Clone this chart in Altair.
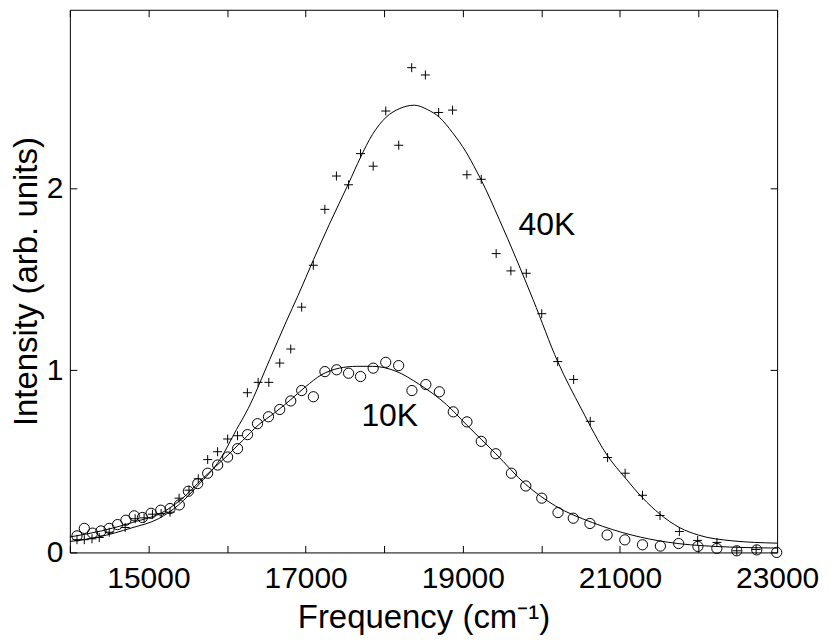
import altair as alt
import pandas as pd

# ---------------- data ----------------
k40_freq = [14091, 14184, 14282, 14374, 14501, 14704, 14831, 14945, 15051, 15161,
            15275, 15390, 15516, 15634, 15754, 15880, 16008, 16134, 16259, 16396,
            16532, 16671, 16811, 16950, 17098, 17245, 17392, 17547, 17699, 17860,
            18020, 18185, 18350, 18524, 18693, 18870, 19053, 19235, 19425, 19612,
            19808, 20005, 20208, 20411, 20622, 20843, 21066, 21287, 21510, 21756,
            21989, 22234, 22487, 22733]
k40_int = [0.070, 0.070, 0.075, 0.082, 0.111, 0.137, 0.185, 0.190, 0.210, 0.214,
           0.221, 0.298, 0.342, 0.404, 0.510, 0.553, 0.623, 0.641, 0.877, 0.934,
           0.934, 1.040, 1.117, 1.347, 1.577, 1.884, 2.067, 2.019, 2.190, 2.121,
           2.424, 2.236, 2.662, 2.622, 2.416, 2.429, 2.074, 2.049, 1.641, 1.546,
           1.533, 1.311, 1.048, 0.950, 0.720, 0.521, 0.435, 0.314, 0.203, 0.115,
           0.066, 0.055, 0.009, 0.016]

k10_freq = [14091, 14184, 14289, 14396, 14501, 14607, 14713, 14819, 14924, 15034,
            15157, 15275, 15393, 15508, 15627, 15754, 15881, 16008, 16134, 16261,
            16388, 16528, 16671, 16811, 16950, 17099, 17246, 17395, 17547, 17699,
            17860, 18020, 18184, 18353, 18530, 18702, 18879, 19053, 19235, 19421,
            19619, 19802, 20005, 20212, 20406, 20618, 20837, 21062, 21287, 21515,
            21747, 21992, 22233, 22487, 22741, 22995]
k10_int = [0.091, 0.132, 0.106, 0.118, 0.132, 0.153, 0.177, 0.201, 0.192, 0.215,
           0.232, 0.241, 0.261, 0.336, 0.378, 0.435, 0.480, 0.524, 0.570, 0.647,
           0.707, 0.745, 0.785, 0.832, 0.889, 0.855, 0.993, 1.003, 0.984, 0.966,
           1.012, 1.044, 1.026, 0.889, 0.922, 0.882, 0.772, 0.717, 0.610, 0.542,
           0.435, 0.365, 0.298, 0.219, 0.188, 0.159, 0.096, 0.069, 0.042, 0.035,
           0.049, 0.033, 0.022, 0.009, 0.014, 0.000]

fit40_freq = [14000, 14365, 14789, 15127, 15381, 15634, 15910, 16122, 16269, 16544,
              16756, 16903, 17103, 17300, 17551, 17699, 17850, 18025, 18200, 18384,
              18550, 18701, 18870, 19040, 19168, 19235, 19463, 19895, 20208, 20508,
              20843, 21066, 21287, 21510, 21756, 22001, 22424, 23000]
fit40_int = [0.060, 0.085, 0.135, 0.185, 0.260, 0.370, 0.510, 0.676, 0.790, 1.060,
             1.270, 1.410, 1.610, 1.800, 2.030, 2.170, 2.295, 2.390, 2.438, 2.456,
             2.432, 2.390, 2.305, 2.200, 2.100, 2.045, 1.830, 1.388, 1.048, 0.789,
             0.530, 0.410, 0.300, 0.210, 0.137, 0.095, 0.064, 0.051]

fit10_freq = [14000, 14400, 14800, 15200, 15400, 15700, 16000, 16200, 16400, 16600,
              16800, 17000, 17200, 17430, 17650, 17855, 18150, 18450, 18790, 19050,
              19420, 19800, 20180, 20650, 21155, 21580, 22210, 23000]
fit10_int = [0.085, 0.118, 0.165, 0.225, 0.285, 0.410, 0.530, 0.615, 0.700, 0.765,
             0.835, 0.910, 0.975, 1.012, 1.022, 1.022, 0.995, 0.922, 0.813, 0.700,
             0.542, 0.374, 0.255, 0.164, 0.095, 0.058, 0.033, 0.024]

x_tick_values = [14000, 15000, 16000, 17000, 18000, 19000, 20000, 21000, 22000, 23000]
x_label_values = [15000, 17000, 19000, 21000, 23000]
y_tick_values = [0, 1, 2]
y_label_values = [0, 1, 2]

note_text = ["40K", "10K"]
note_freq = [20072, 18071]
note_int = [1.80, 0.751]

# ---------------- chart ----------------
W, H = 709, 544
FONT = "Liberation Sans"
FS = 30      # tick labels
FT = 33      # axis titles
FN = 32      # in-plot notes

xs = alt.Scale(domain=[14000, 23000], nice=False, zero=False)
ys = alt.Scale(domain=[0, 2.98], nice=False, zero=False)


def frame(f, i):
    return pd.DataFrame({"f": f, "i": i})


x_label_axis = alt.Axis(values=x_label_values, format="d", ticks=False, tickSize=0,
                        domain=False, grid=False, labelFont=FONT, labelFontSize=FS,
                        labelColor="black", labelPadding=11, labelFlush=False,
                        labelOverlap=False, labelBound=False,
                        title="Frequency (cm⁻¹)", titleFont=FONT, titleFontSize=FT,
                        titleFontWeight="normal", titleColor="black",
                        titleX=W / 2, titleY=75, titleBaseline="alphabetic",
                        titleAlign="center")
y_label_axis = alt.Axis(values=y_label_values, format="d", ticks=False, tickSize=0,
                        domain=False, grid=False, labelFont=FONT, labelFontSize=FS,
                        labelColor="black", labelPadding=7, labelFlush=False,
                        labelOverlap=False, labelBound=False,
                        title="Intensity (arb. units)", titleFont=FONT, titleFontSize=FT,
                        titleFontWeight="normal", titleColor="black",
                        titleX=-33, titleY=H / 2, titleAngle=270,
                        titleBaseline="alphabetic", titleAlign="center")


def tick_axis(values, orient, offset):
    return alt.Axis(values=values, orient=orient, offset=offset, labels=False,
                    domain=False, grid=False, ticks=True, tickSize=7,
                    tickColor="black", tickWidth=1, title="")


line40 = alt.Chart(frame(fit40_freq, fit40_int)).mark_line(
    color="black", strokeWidth=1, interpolate="monotone"
).encode(
    x=alt.X("f:Q", scale=xs, axis=x_label_axis),
    y=alt.Y("i:Q", scale=ys, axis=y_label_axis),
)

line10 = alt.Chart(frame(fit10_freq, fit10_int)).mark_line(
    color="black", strokeWidth=1, interpolate="monotone"
).encode(
    x=alt.X("f:Q", scale=xs, axis=tick_axis(x_tick_values, "top", -H)),
    y=alt.Y("i:Q", scale=ys, axis=tick_axis(y_tick_values, "right", -W)),
)

pts40 = alt.Chart(frame(k40_freq, k40_int)).mark_point(
    shape="M-1,0L1,0M0,-1L0,1", size=81, filled=False, color="black",
    strokeWidth=1, opacity=1
).encode(
    x=alt.X("f:Q", scale=xs, axis=tick_axis(x_tick_values, "bottom", -H)),
    y=alt.Y("i:Q", scale=ys, axis=tick_axis(y_tick_values, "left", -W)),
)

pts10 = alt.Chart(frame(k10_freq, k10_int)).mark_point(
    shape="circle", size=105, filled=False, color="black", strokeWidth=1, opacity=1
).encode(
    x=alt.X("f:Q", scale=xs, axis=None),
    y=alt.Y("i:Q", scale=ys, axis=None),
)

notes = alt.Chart(pd.DataFrame({"t": note_text, "f": note_freq, "i": note_int})).mark_text(
    font=FONT, fontSize=FN, color="black", align="center", baseline="middle"
).encode(
    x=alt.X("f:Q", scale=xs, axis=None),
    y=alt.Y("i:Q", scale=ys, axis=None),
    text="t:N",
)

chart = alt.layer(line40, line10, pts40, pts10, notes).resolve_axis(
    x="independent", y="independent"
).properties(
    width=W, height=H,
    padding={"left": 62, "top": 1, "right": 45, "bottom": 85},
    autosize=alt.AutoSizeParams(type="none"),
    background="white",
).configure_view(stroke="black", strokeWidth=1)

chart.save("out.html", embed_options={"renderer": "svg", "actions": False})
